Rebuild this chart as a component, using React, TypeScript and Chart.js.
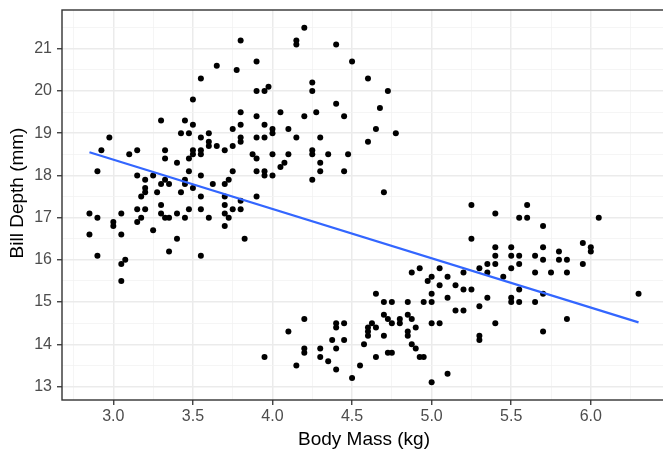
import React, { useEffect, useRef } from "react";
import { Chart, registerables } from "chart.js";

Chart.register(...registerables);

// Body mass (kg) of each penguin
const bodyMass: number[] = [
  3.8, 3.9, 3.65, 3.775, 3.55, 3.9, 3.5, 3.8, 3.9, 3.3, 3.45, 3.5, 3.8, 3.75, 3.425, 3.475,
  2.975, 3.55, 3.6, 3.8, 3.9, 3.6, 3.6, 3.65, 3.7, 3.75, 3.8, 2.925, 3.1, 3.15, 3.325, 3.5,
  3.55, 3.5, 3.55, 3.875, 3.9, 3.325, 3.4, 3.475, 2.9, 3.15, 3.2, 3.25, 3.3, 3.325, 3.35, 3.45,
  3.45, 3.475, 3.55, 3.5, 3.625, 3.7, 3.725, 3.75, 3.9, 3.2, 3.2, 3.275, 3.425, 3.175, 3.55, 3.9,
  3.3, 2.85, 2.9, 3.0, 3.0, 3.05, 3.15, 3.2, 3.175, 3.15, 3.3, 3.325, 3.35, 3.4, 3.475, 3.45,
  3.55, 3.6, 3.7, 3.7, 3.7, 3.725, 3.75, 3.8, 3.8, 3.7, 3.825, 3.25, 2.85, 3.05, 3.4, 3.35,
  2.9, 3.55, 3.075, 3.05, 3.05, 3.95, 3.95, 3.95, 3.95, 3.95, 3.975,
  4.2, 4.15, 4.15, 4.4, 4.5, 4.6, 4.25, 4.25, 4.725, 4.4, 4.675, 4.05, 4.275, 4.2, 4.45, 4.0,
  4.0, 4.1, 4.65, 4.775, 4.15, 4.3, 4.6, 4.25, 4.25, 4.0, 4.1, 4.35, 4.475, 4.3, 4.075, 4.05,
  4.0, 4.3, 4.45, 4.25, 4.7,
  4.875, 4.925, 5.05, 5.0, 4.975, 5.05, 5.1, 5.0, 5.0, 5.1, 4.65, 4.7, 4.75, 4.85, 4.95, 4.7,
  4.725, 4.75, 4.8, 4.8, 4.85, 4.875, 5.0, 5.05, 4.625, 4.6, 4.65, 4.6, 4.6, 4.4, 4.4, 4.45,
  4.2, 4.1, 4.85, 4.85, 4.9, 4.7, 4.375, 4.45, 4.4, 4.2, 4.2, 4.3, 4.3, 4.35, 4.575, 4.65,
  4.725, 4.75, 4.875, 4.9, 4.925, 4.95, 4.15, 3.95, 4.4, 4.55, 4.5, 5.0, 5.1,
  5.25, 5.4, 5.6, 5.55, 5.6, 6.05, 5.7, 5.25, 5.95, 6.0, 6.0, 5.4, 5.5, 5.7, 5.8, 5.4,
  5.5, 5.55, 5.65, 5.7, 5.8, 5.85, 5.35, 5.4, 5.55, 5.95, 5.3, 5.5, 5.35, 5.2, 5.65, 5.75,
  5.85, 5.45, 5.15, 5.2, 5.25, 5.55, 5.7, 5.35, 5.5, 5.5, 5.55, 5.65, 5.3, 5.15, 5.2, 6.3,
  5.4, 5.85, 5.7, 5.3, 5.3,
];

// Bill depth (mm) of each penguin, same order as bodyMass
const billDepth: number[] = [
  21.2, 20.7, 20.6, 20.5, 20.3, 20.0, 19.8, 19.5, 19.4, 19.3, 19.3, 19.2, 19.2, 19.1, 19.0, 19.0,
  18.9, 18.9, 19.0, 18.9, 18.9, 18.8, 18.7, 18.7, 18.6, 18.7, 18.8, 18.6, 18.5, 18.6, 18.6, 18.6,
  18.6, 18.5, 18.5, 18.5, 18.4, 18.4, 18.3, 18.4, 18.1, 18.0, 17.9, 18.0, 17.8, 17.9, 17.8, 17.9,
  17.8, 18.1, 18.0, 17.7, 17.8, 17.8, 17.9, 18.1, 18.1, 17.7, 17.6, 17.6, 17.6, 17.5, 17.5, 17.5,
  17.3, 17.1, 17.0, 16.9, 16.8, 17.1, 17.2, 17.2, 17.0, 16.9, 17.1, 17.0, 17.0, 17.1, 17.2, 17.0,
  17.2, 17.0, 17.5, 17.3, 17.1, 17.0, 17.2, 17.4, 17.2, 16.8, 16.5, 16.7, 16.6, 16.6, 16.5, 16.2,
  16.1, 16.1, 16.0, 15.9, 15.5, 19.2, 18.9, 18.1, 18.0, 20.0, 20.1,
  21.5, 21.2, 21.1, 21.1, 20.7, 20.3, 20.2, 20.0, 20.0, 19.7, 19.6, 19.5, 19.5, 19.4, 19.4, 19.1,
  19.0, 19.1, 19.1, 19.0, 18.9, 18.9, 18.8, 18.6, 18.5, 18.5, 18.5, 18.5, 18.5, 18.3, 18.3, 18.2,
  18.0, 18.1, 18.1, 17.9, 17.6,
  15.7, 15.8, 15.8, 15.6, 15.5, 15.4, 15.6, 15.2, 15.0, 15.1, 15.2, 15.0, 15.0, 15.0, 15.0, 14.7,
  14.6, 14.5, 14.6, 14.5, 14.7, 14.6, 14.5, 14.5, 14.5, 14.4, 14.4, 14.3, 14.2, 14.5, 14.4, 14.5,
  14.6, 14.3, 14.3, 14.2, 14.4, 14.2, 14.1, 14.1, 13.9, 13.9, 13.8, 13.9, 13.7, 13.6, 14.0, 13.7,
  13.8, 13.8, 14.0, 13.9, 13.7, 13.7, 13.5, 13.7, 13.4, 13.5, 13.2, 13.1, 13.3,
  17.3, 17.1, 17.3, 17.0, 17.0, 17.0, 16.8, 16.5, 16.4, 16.3, 16.2, 16.3, 16.3, 16.3, 16.2, 16.1,
  16.1, 16.1, 16.1, 16.0, 16.0, 16.0, 15.9, 15.9, 15.9, 15.9, 15.8, 15.8, 15.7, 15.7, 15.7, 15.7,
  15.7, 15.6, 15.4, 15.3, 15.3, 15.3, 15.2, 15.1, 15.1, 15.0, 15.0, 15.0, 14.9, 14.8, 14.8, 15.2,
  14.5, 14.6, 14.3, 14.2, 14.1,
];

// Linear fit (geom_smooth, method = "lm") end points
const fitMass: number[] = [2.85, 6.3];
const fitDepth: number[] = [18.55, 14.52];

const xMajorTicks: number[] = [3.0, 3.5, 4.0, 4.5, 5.0, 5.5, 6.0];
const xMinorTicks: number[] = [2.75, 3.25, 3.75, 4.25, 4.75, 5.25, 5.75, 6.25];
const yMajorTicks: number[] = [13, 14, 15, 16, 17, 18, 19, 20, 21];
const yMinorTicks: number[] = [13.5, 14.5, 15.5, 16.5, 17.5, 18.5, 19.5, 20.5, 21.5];

const xTitle = "Body Mass (kg)";
const yTitle = "Bill Depth (mm)";

const X_MIN = 2.6775;
const X_MAX = 6.4725;
const Y_MIN = 12.68;
const Y_MAX = 21.92;

const FONT = "'Liberation Sans', Arial, sans-serif";

const isMajor = (list: number[], v: number) => list.some((m) => Math.abs(m - v) < 1e-6);

const panelBorder = {
  id: "panelBorder",
  afterDatasetsDraw(chart: any) {
    const { ctx, chartArea } = chart;
    ctx.save();
    ctx.strokeStyle = "#333333";
    ctx.lineWidth = 1.4;
    ctx.strokeRect(chartArea.left, chartArea.top, chartArea.right - chartArea.left, chartArea.bottom - chartArea.top);
    ctx.restore();
  },
};

const yTitlePlugin = {
  id: "yTitlePlugin",
  afterDraw(chart: any) {
    const { ctx, chartArea } = chart;
    ctx.save();
    ctx.translate(18, (chartArea.top + chartArea.bottom) / 2 - 12);
    ctx.rotate(-Math.PI / 2);
    ctx.font = `19px ${FONT}`;
    ctx.fillStyle = "#000000";
    ctx.textAlign = "center";
    ctx.textBaseline = "middle";
    ctx.fillText(yTitle, 0, 0);
    ctx.restore();
  },
};

export default function App() {
  const canvasRef = useRef<HTMLCanvasElement | null>(null);

  useEffect(() => {
    const canvas = canvasRef.current;
    if (!canvas) return;
    const points = bodyMass.map((x, i) => ({ x, y: billDepth[i] }));
    const fit = fitMass.map((x, i) => ({ x, y: fitDepth[i] }));

    const chart = new Chart(canvas, {
      type: "scatter",
      data: {
        datasets: [
          {
            type: "line",
            data: fit,
            borderColor: "#3366FF",
            borderWidth: 2.2,
            pointRadius: 0,
            fill: false,
          } as any,
          {
            type: "scatter",
            data: points,
            backgroundColor: "#000000",
            borderWidth: 0,
            pointRadius: 3,
          },
        ],
      },
      plugins: [panelBorder, yTitlePlugin],
      options: {
        responsive: false,
        animation: false,
        devicePixelRatio: 1,
        layout: { padding: { top: 10, right: 1, left: 0, bottom: 0 } },
        plugins: { legend: { display: false }, tooltip: { enabled: false } },
        scales: {
          x: {
            type: "linear",
            position: "bottom",
            min: X_MIN,
            max: X_MAX,
            afterBuildTicks: (scale: any) => {
              scale.ticks = [...xMinorTicks, ...xMajorTicks].sort((a, b) => a - b).map((v) => ({ value: v }));
            },
            afterFit: (scale: any) => {
              scale.height = 53;
              scale.paddingLeft = 0;
              scale.paddingRight = 0;
            },
            border: { display: false },
            grid: {
              color: (c: any) => (isMajor(xMajorTicks, c.tick?.value) ? "#EBEBEB" : "#F3F3F3"),
              lineWidth: (c: any) => (isMajor(xMajorTicks, c.tick?.value) ? 1.5 : 0.8),
              tickColor: (c: any) => (isMajor(xMajorTicks, c.tick?.value) ? "#333333" : "rgba(0,0,0,0)"),
              tickLength: 5,
              tickWidth: 1.3,
            },
            ticks: {
              autoSkip: false,
              maxRotation: 0,
              minRotation: 0,
              padding: 2,
              color: "#4D4D4D",
              font: { family: FONT, size: 16 },
              callback: (v: any) => (isMajor(xMajorTicks, Number(v)) ? Number(v).toFixed(1) : ""),
            },
            title: {
              display: true,
              text: xTitle,
              color: "#000000",
              font: { family: FONT, size: 19 },
              padding: { top: 0, bottom: 2 },
            },
          },
          y: {
            type: "linear",
            position: "left",
            min: Y_MIN,
            max: Y_MAX,
            afterBuildTicks: (scale: any) => {
              scale.ticks = [...yMajorTicks, ...yMinorTicks].sort((a, b) => a - b).map((v) => ({ value: v }));
            },
            afterFit: (scale: any) => {
              scale.width = 62;
              scale.paddingTop = 0;
              scale.paddingBottom = 0;
            },
            border: { display: false },
            grid: {
              color: (c: any) => (isMajor(yMajorTicks, c.tick?.value) ? "#EBEBEB" : "#F3F3F3"),
              lineWidth: (c: any) => (isMajor(yMajorTicks, c.tick?.value) ? 1.5 : 0.8),
              tickColor: (c: any) => (isMajor(yMajorTicks, c.tick?.value) ? "#333333" : "rgba(0,0,0,0)"),
              tickLength: 5,
              tickWidth: 1.3,
            },
            ticks: {
              autoSkip: false,
              padding: 5,
              color: "#4D4D4D",
              font: { family: FONT, size: 16 },
              callback: (v: any) => (isMajor(yMajorTicks, Number(v)) ? String(Math.round(Number(v))) : ""),
            },
            title: { display: false },
          },
        },
      },
    });
    return () => chart.destroy();
  }, []);

  return (
    <div
      style={{
        position: "fixed",
        left: 0,
        top: 0,
        width: 663,
        height: 453,
        overflow: "hidden",
        background: "#FFFFFF",
      }}
    >
      <canvas ref={canvasRef} width={670} height={453} style={{ width: 670, height: 453, display: "block" }} />
    </div>
  );
}
